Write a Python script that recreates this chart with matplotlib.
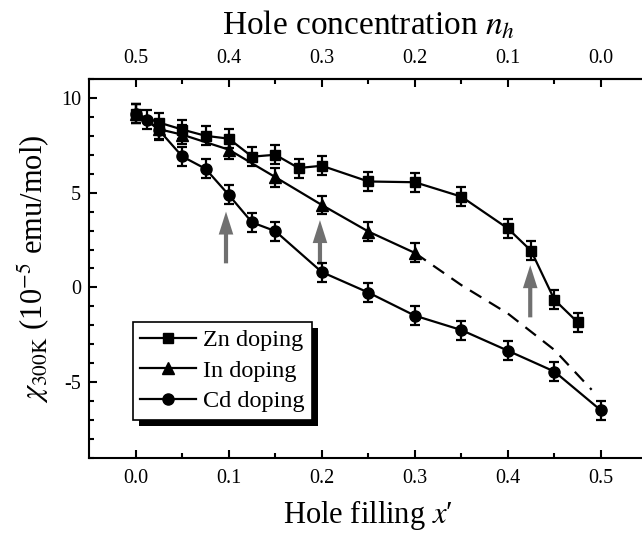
import matplotlib.pyplot as plt
from matplotlib.patches import Rectangle

plt.rcParams['font.family'] = ['Liberation Serif', 'DejaVu Serif']
plt.rcParams['mathtext.fontset'] = 'stix'
plt.rcParams['axes.unicode_minus'] = False

# Zn doping
zn_x = [0.0, 0.025, 0.05, 0.075, 0.1, 0.125, 0.15, 0.175, 0.2, 0.25, 0.3, 0.35, 0.4, 0.425, 0.45, 0.475]
zn_y = [9.16, 8.7, 8.33, 8.0, 7.85, 6.9, 7.0, 6.3, 6.42, 5.59, 5.55, 4.79, 3.11, 1.93, -0.65, -1.84]

# In doping
in_x = [0.0, 0.025, 0.05, 0.1, 0.15, 0.2, 0.25, 0.3]
in_y = [9.16, 8.35, 8.06, 7.27, 5.82, 4.35, 2.95, 1.82]

# Cd doping
cd_x = [0.0, 0.0125, 0.025, 0.05, 0.075, 0.1, 0.125, 0.15, 0.2, 0.25, 0.3, 0.35, 0.4, 0.45, 0.5]
cd_y = [9.16, 8.86, 8.3, 6.91, 6.26, 4.88, 3.43, 2.97, 0.81, -0.27, -1.49, -2.25, -3.34, -4.44, -6.49]

err = 0.5

# dashed guide continuing the In curve
guide_x = [0.3, 0.35, 0.4, 0.45, 0.49]
guide_y = [1.82, 0.12, -1.38, -3.3, -5.4]

# grey arrows
arrow_x = [0.097, 0.198, 0.424]
arrow_top = [4.0, 3.55, 1.17]
arrow_bottom = [1.27, 1.2, -1.58]

fig = plt.figure(figsize=(6.42, 5.35), dpi=100)
ax = fig.add_axes([0.139, 0.144, 0.8695, 0.7084])

for xa, yt, yb in zip(arrow_x, arrow_top, arrow_bottom):
    ax.annotate('', xy=(xa, yt), xytext=(xa, yb),
                arrowprops=dict(arrowstyle='simple,head_length=1.65,head_width=1.05,tail_width=0.3',
                                mutation_scale=10, color='#707070', lw=0,
                                shrinkA=0, shrinkB=0), zorder=1)

ax.plot(guide_x, guide_y, color='k', lw=1.6, dashes=(6, 4), zorder=2)

series = [(zn_x, zn_y, 's', 7, 'Zn doping'),
          (in_x, in_y, '^', 8, 'In doping'),
          (cd_x, cd_y, 'o', 8, 'Cd doping')]
for xs, ys, mk, ms, lab in series:
    ax.errorbar(xs, ys, yerr=err, fmt='none', ecolor='k', elinewidth=1.6,
                capsize=3.5, capthick=1.6, zorder=3)
    ax.plot(xs, ys, '-', marker=mk, color='k', ms=ms, lw=1.6, label=lab, zorder=4)

ax.set_xlim(-0.05, 0.55)
ax.set_ylim(-9, 11)

ax.set_xticks([0.0, 0.1, 0.2, 0.3, 0.4, 0.5], labels=['0.0', '0.1', '0.2', '0.3', '0.4', '0.5'])
ax.set_xticks([0.05, 0.15, 0.25, 0.35, 0.45], minor=True)
ax.set_yticks([-5, 0, 5, 10])
ax.set_yticks([-9, -8, -7, -6, -4, -3, -2, -1, 1, 2, 3, 4, 6, 7, 8, 9, 11], minor=True)
ax.tick_params(which='both', direction='in', width=1.5, labelsize=14.5)
ax.tick_params(which='major', length=6)
ax.tick_params(which='minor', length=3.5)
ax.tick_params(axis='x', pad=8)
ax.tick_params(axis='y', pad=6)
for sp in ax.spines.values():
    sp.set_linewidth(1.5)

sec = ax.secondary_xaxis('top', functions=(lambda x: 0.5 - x, lambda n: 0.5 - n))
sec.set_xticks([0.5, 0.4, 0.3, 0.2, 0.1, 0.0], labels=['0.5', '0.4', '0.3', '0.2', '0.1', '0.0'])
sec.set_xticks([0.45, 0.35, 0.25, 0.15, 0.05], minor=True)
sec.tick_params(which='both', direction='in', width=1.5, labelsize=14.5, pad=8)
sec.tick_params(which='major', length=6)
sec.tick_params(which='minor', length=3.5)
sec.spines['top'].set_linewidth(1.5)
sec.set_xlabel('Hole concentration $n_h$', fontsize=24, labelpad=10)

ax.set_xlabel('Hole filling $x$\u2032', fontsize=22, labelpad=7)
ax.set_ylabel(r'$\chi_{300\mathrm{K}}$ (10$^{-5}$ emu/mol)', fontsize=22, labelpad=6)

leg = ax.legend(loc='upper left', bbox_to_anchor=(0.078, 0.359), borderaxespad=0,
                fontsize=17.5, frameon=True, fancybox=False, edgecolor='k', framealpha=1,
                handlelength=2.3, handletextpad=0.3, borderpad=0.3, labelspacing=0.35)
leg.get_frame().set_linewidth(1.2)
leg.set_zorder(6)

# black drop shadow behind the legend box
fig.canvas.draw()
bb = leg.get_window_extent()
shadow = Rectangle((bb.x0 + 6, bb.y0 - 6), bb.width, bb.height, transform=None,
                   facecolor='k', edgecolor='none', zorder=5)
ax.add_artist(shadow)

fig.savefig('out.png', dpi=100)
